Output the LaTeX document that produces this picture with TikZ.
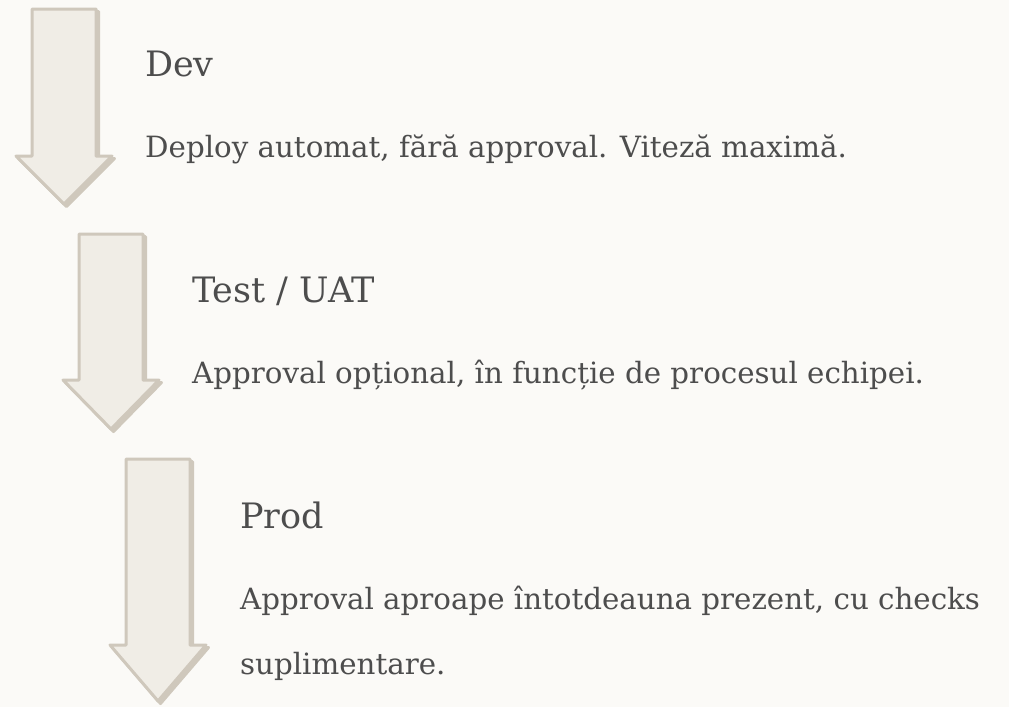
\documentclass[tikz,border=0pt]{standalone}
\usepackage{fontspec}
\setmainfont{DejaVu Serif}
\definecolor{paperbg}{HTML}{FBFAF7}
\definecolor{arrowfill}{HTML}{F0EDE6}
\definecolor{arrowline}{HTML}{CFC8BC}
\definecolor{inktext}{HTML}{4D4D4D}
\tikzset{
  arrowbody/.style={fill=arrowfill,draw=arrowline,line width=3pt,line join=round},
  arrowshadow/.style={fill=arrowline,draw=arrowline,line width=3pt,line join=round},
  stagetitle/.style={anchor=base west,inner sep=0pt,text=inktext,font=\fontsize{35}{42}\selectfont},
  stagetext/.style={anchor=base west,inner sep=0pt,text=inktext,align=left,font=\fontsize{29.3}{65}\selectfont}
}
\begin{document}
\begin{tikzpicture}[x=1pt,y=-1pt]
  \fill [paperbg] (0,0) rectangle (1009,707);
  \useasboundingbox (0,0) rectangle (1009,707);
  % Dev
  \draw [arrowshadow,shift={(2.5,2.5)}] (32,9)--(96,9)--(96,156)--(112,156)--(64,204)--(16,156)--(32,156)--cycle;
  \draw [arrowbody] (32,9)--(96,9)--(96,156)--(112,156)--(64,204)--(16,156)--(32,156)--cycle;
  \node [stagetitle] (dev) at (145,76) {Dev};
  \node [stagetext] (devtext) at (145,157) {Deploy automat, fără approval. Viteză maximă.};
  % Test / UAT
  \draw [arrowshadow,shift={(2.5,2.5)}] (79,234)--(143,234)--(143,380)--(159,380)--(111,429)--(63,380)--(79,380)--cycle;
  \draw [arrowbody] (79,234)--(143,234)--(143,380)--(159,380)--(111,429)--(63,380)--(79,380)--cycle;
  \node [stagetitle] (test) at (192,302) {Test / UAT};
  \node [stagetext] (testtext) at (192,383) {Approval opțional, în funcție de procesul echipei.};
  % Prod
  \draw [arrowshadow,shift={(2.5,2.5)}] (126,459)--(190,459)--(190,645)--(206,645)--(158,701)--(110,645)--(126,645)--cycle;
  \draw [arrowbody] (126,459)--(190,459)--(190,645)--(206,645)--(158,701)--(110,645)--(126,645)--cycle;
  \node [stagetitle] (prod) at (240,528) {Prod};
  \node [stagetext] (prodtext) at (240,674) {Approval aproape întotdeauna prezent, cu checks\\suplimentare.};
\end{tikzpicture}
\end{document}
